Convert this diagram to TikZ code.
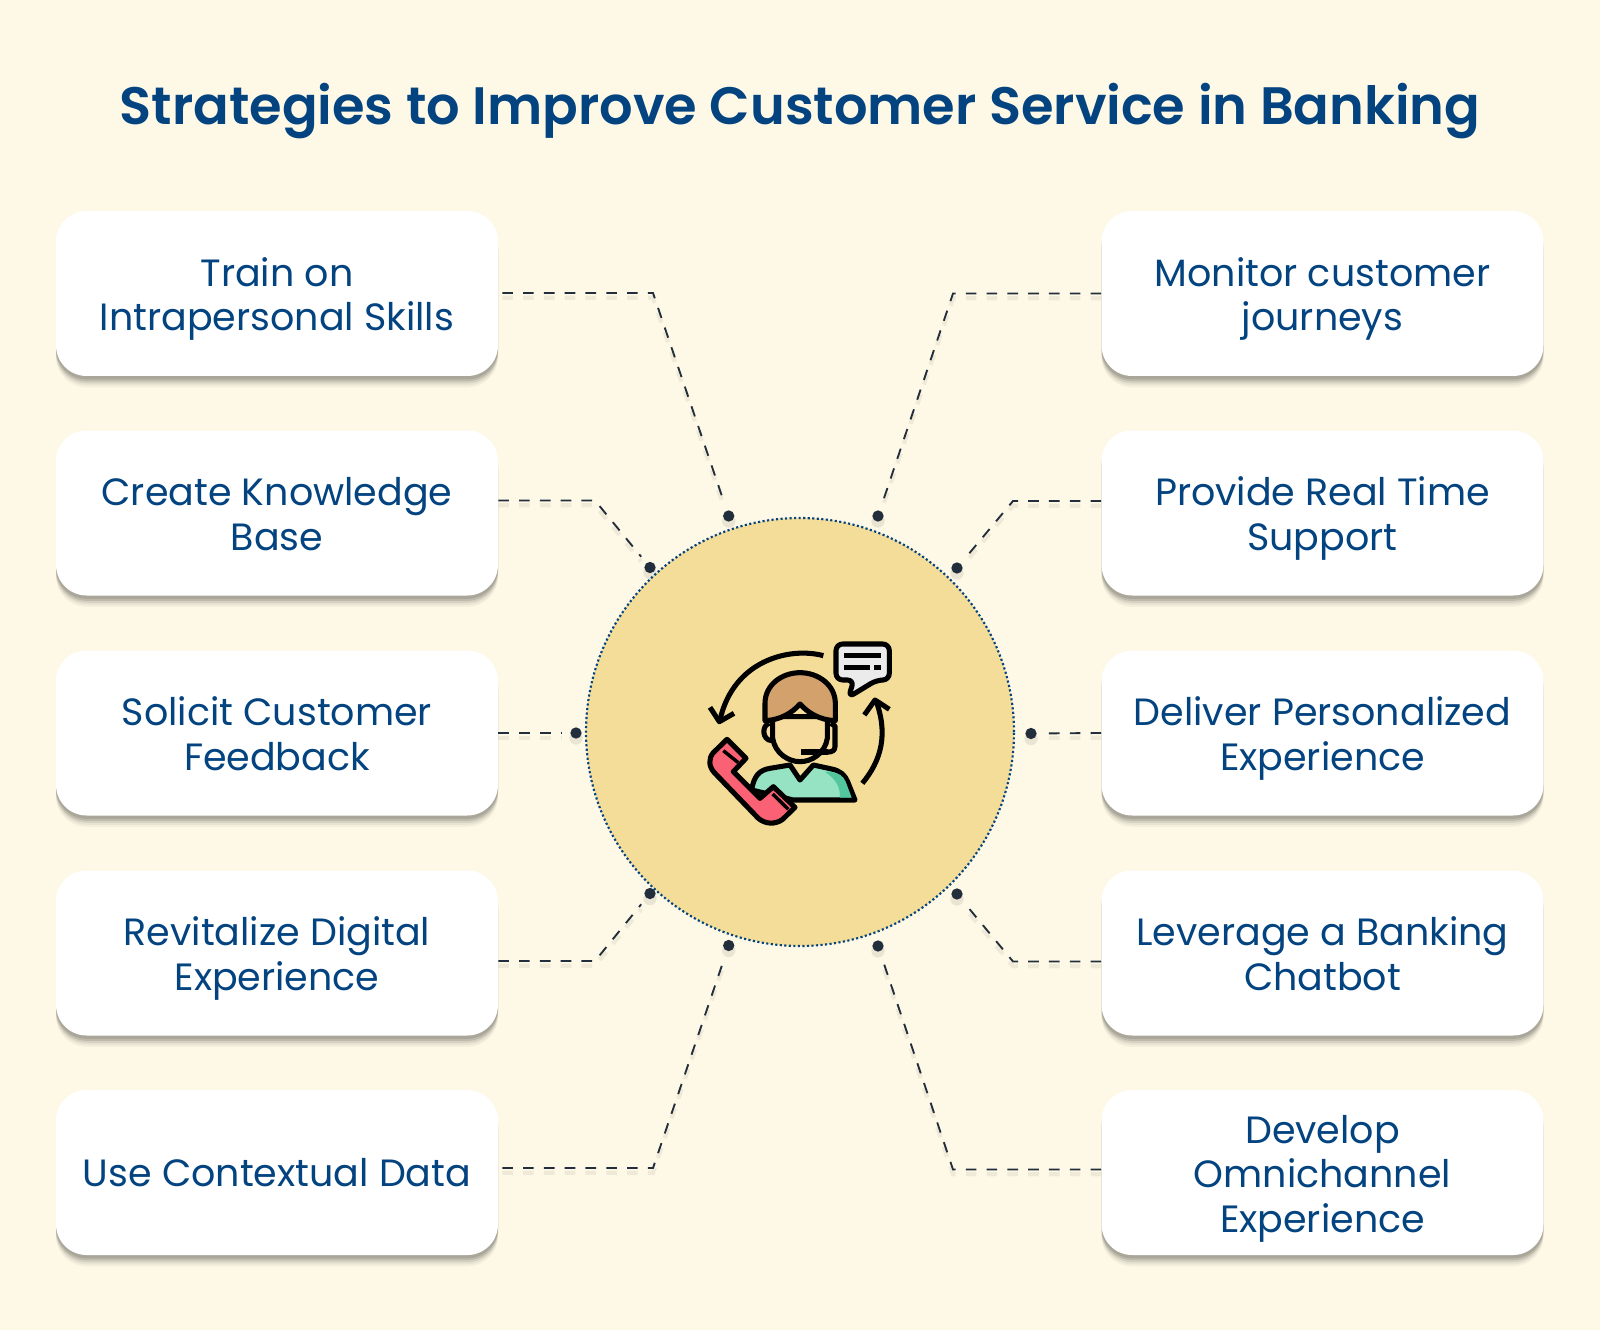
\documentclass[tikz,border=0pt]{standalone}
\usepackage{xcolor}
\usepackage{fontspec}
\setmainfont{Poppins}
\newfontfamily\titlefont{Poppins SemiBold}
\usetikzlibrary{shapes,positioning,calc}
\definecolor{creambg}{HTML}{FEF8E6}
\definecolor{bankblue}{HTML}{03437F}
\definecolor{hubyellow}{HTML}{F3DD98}
\definecolor{linkdark}{HTML}{232E3C}
\definecolor{hairbrown}{HTML}{D2A16C}
\definecolor{skintone}{HTML}{F7DDA0}
\definecolor{shirtgreen}{HTML}{95E3C2}
\definecolor{shirtdark}{HTML}{52C79E}
\definecolor{phonered}{HTML}{FB6175}

\begin{document}
\begin{tikzpicture}[
    x=0.75pt, y=-0.75pt,
    softdrop/.style={preaction={fill=#1, transform canvas={yshift=-8.5pt}, opacity=.05},
                     preaction={fill=#1, transform canvas={yshift=-7pt}, opacity=.07},
                     preaction={fill=#1, transform canvas={yshift=-5.5pt}, opacity=.11},
                     preaction={fill=#1, transform canvas={yshift=-4pt}, opacity=.17},
                     preaction={fill=#1, transform canvas={yshift=-2.5pt}, opacity=.17}},
    strategy/.style={rectangle, rounded corners=23pt, fill=white, text=bankblue, inner sep=0pt,
                     minimum width=331.5pt, minimum height=123.75pt, align=center,
                     font=\fontsize{28.5pt}{33.3pt}\selectfont,
                     execute at begin node={\rule{0pt}{#1}},
                     execute at end node={\rule[-10pt]{0pt}{10pt}},
                     softdrop=black!70!creambg},
    strategy/.default=66pt,
    link/.style={draw=linkdark, line width=1.4pt, dash pattern=on 8pt off 7.6pt},
    linkglow/.style={draw=black, line width=3.2pt, dash pattern=on 8pt off 7.6pt, opacity=.06},
    pin/.style={circle, fill=linkdark, inner sep=0pt, minimum size=8.5pt},
    pinglow/.style={circle, fill=black, opacity=.08, inner sep=0pt, minimum size=10pt},
    icon/.style={draw=black, line width=3.8pt, line join=round}
]
    \fill[creambg] (0,0) rectangle (1600,1330);
    \useasboundingbox (0,0) rectangle (1600,1330);

    \node[text=bankblue, font=\fontsize{39.5pt}{48pt}\selectfont\titlefont] (title) at (800,111) {Strategies to Improve Customer Service in Banking};

    % Pins on the circle
    \node[pinglow] at (728.7,521) {};
    \node[pinglow] at (650,572.5) {};
    \node[pinglow] at (576,738) {};
    \node[pinglow] at (650,898.5) {};
    \node[pinglow] at (728.7,950.5) {};
    \node[pinglow] at (878,521) {};
    \node[pinglow] at (957,573) {};
    \node[pinglow] at (1031,738.5) {};
    \node[pinglow] at (957,899) {};
    \node[pinglow] at (878,951) {};

    % Centre circle
    \node[circle, fill=hubyellow, draw=bankblue, line width=1.6pt, dash pattern=on 1.6pt off 1.8pt, minimum size=321pt, inner sep=0pt] (hub) at (800,732) {};

    % Left column
    \node[strategy] (train) at (277,293.5) {Train on\\Intrapersonal Skills};
    \node[strategy] (knowledge) at (277,513) {Create Knowledge\\Base};
    \node[strategy] (feedback) at (277,733) {Solicit Customer\\Feedback};
    \node[strategy] (digital) at (277,953) {Revitalize Digital\\Experience};
    \node[strategy=31pt] (context) at (277,1172.5) {Use Contextual Data};

    % Right column
    \node[strategy] (monitor) at (1322.5,293.5) {Monitor customer\\journeys};
    \node[strategy] (realtime) at (1322.5,513) {Provide Real Time\\Support};
    \node[strategy] (personal) at (1322.5,733) {Deliver Personalized\\Experience};
    \node[strategy] (chatbot) at (1322.5,953) {Leverage a Banking\\Chatbot};
    \node[strategy=99.5pt] (omni) at (1322.5,1172.5) {Develop\\Omnichannel\\Experience};

    \node[pin] (trainpin) at (728.7,516) {};
    \node[pin] (knowledgepin) at (650,567.5) {};
    \node[pin] (feedbackpin) at (576,733) {};
    \node[pin] (digitalpin) at (650,893.5) {};
    \node[pin] (contextpin) at (728.7,945.5) {};
    \node[pin] (monitorpin) at (878,516) {};
    \node[pin] (realtimepin) at (957,568) {};
    \node[pin] (personalpin) at (1031,733.5) {};
    \node[pin] (chatbotpin) at (957,894) {};
    \node[pin] (omnipin) at (878,946) {};

    % Bends
    \coordinate (trainbend) at (653,293);
    \coordinate (knowledgebend) at (595,500.5);
    \coordinate (digitalbend) at (595,961);
    \coordinate (contextbend) at (653,1168);
    \coordinate (monitorbend) at (953,293.5);
    \coordinate (realtimebend) at (1013,501);
    \coordinate (chatbotbend) at (1013,961.5);
    \coordinate (omnibend) at (953,1169.5);

    % Dashed links
    \foreach \boxname/\side/\shortstart in {train/east/3pt, knowledge/east/0pt, digital/east/0pt, context/east/3pt, monitor/west/0pt, realtime/west/0pt, chatbot/west/0pt, omni/west/0pt} {
        \draw[linkglow, transform canvas={yshift=-3.5pt}, shorten <=\shortstart, shorten >=6pt] (\boxname.\side |- \boxname bend) -- (\boxname bend) -- (\boxname pin);
        \draw[link, shorten <=\shortstart, shorten >=6pt] (\boxname.\side |- \boxname bend) -- (\boxname bend) -- (\boxname pin);
    }
    \draw[linkglow, transform canvas={yshift=-3.5pt}, shorten >=6pt] (feedback.east) -- (feedbackpin);
    \draw[link, shorten >=6pt] (feedback.east) -- (feedbackpin);
    \draw[linkglow, transform canvas={yshift=-3.5pt}, shorten >=6pt] (personal.west) -- (personalpin);
    \draw[link, shorten >=6pt] (personal.west) -- (personalpin);

    % Agent icon
    \begin{scope}[shift={(680,620)}, x=0.25pt, y=-0.25pt]
        % Turning arrows
        \draw[icon] (430,107) .. controls (330,80) and (160,120) .. (120,300);
        \draw[icon] (90,262) -- (118,305) -- (162,280);
        \draw[icon] (547,490) .. controls (605,420) and (625,340) .. (587,240);
        \draw[icon] (553,285) -- (585,240) -- (628,268);
        % Speech bubble
        \draw[icon, fill=white!92!black, rounded corners=5pt] (468,72) -- (628,72) -- (628,180) -- (590,180) -- (505,232) -- (522,180) -- (468,180) -- cycle;
        \fill[black] (493,98) rectangle (602,114);
        \fill[black] (493,134) rectangle (570,150);
        \fill[black] (582,134) rectangle (602,150);
        % Shirt
        \draw[icon, fill=shirtgreen] (215,510) .. controls (222,465) and (240,450) .. (270,445) -- (330,435) -- (360,480) -- (400,435) -- (455,447) .. controls (480,452) and (495,465) .. (503,485) -- (525,540) -- (340,540) -- cycle;
        \fill[shirtdark] (435,455) .. controls (480,455) and (490,470) .. (497,485) -- (515,533) -- (480,533) .. controls (480,500) and (470,480) .. (435,455) -- cycle;
        % Ears and headset
        \draw[icon, fill=skintone] (268,310) .. controls (245,315) and (245,360) .. (275,362);
        \draw[icon, fill=skintone] (452,310) -- (465,318) -- (465,380) .. controls (465,392) and (455,396) .. (445,396) -- (362,396);
        % Face
        \draw[icon, fill=skintone] (278,290) -- (278,355) .. controls (285,400) and (325,425) .. (360,425) .. controls (395,425) and (435,400) .. (442,355) -- (442,290) -- cycle;
        \draw[icon] (445,396) -- (362,396);
        % Hair
        \draw[icon, fill=hairbrown] (255,302) -- (255,250) .. controls (255,195) and (305,158) .. (360,158) .. controls (415,158) and (466,195) .. (466,250) -- (466,302) .. controls (420,300) and (385,280) .. (360,252) .. controls (335,280) and (300,300) .. (255,302) -- cycle;
        % Phone
        \draw[icon, fill=phonered] (141,358) -- (198,415) -- (160,455) -- (240,535) -- (280,500) -- (345,562) -- (308,598) .. controls (285,615) and (255,612) .. (235,595) -- (105,460) .. controls (85,440) and (85,415) .. (100,398) -- cycle;
        \draw[black, line width=2.6pt] (130,392) -- (175,428);
        \draw[black, line width=2.6pt] (278,522) -- (325,568);
    \end{scope}
\end{tikzpicture}
\end{document}
